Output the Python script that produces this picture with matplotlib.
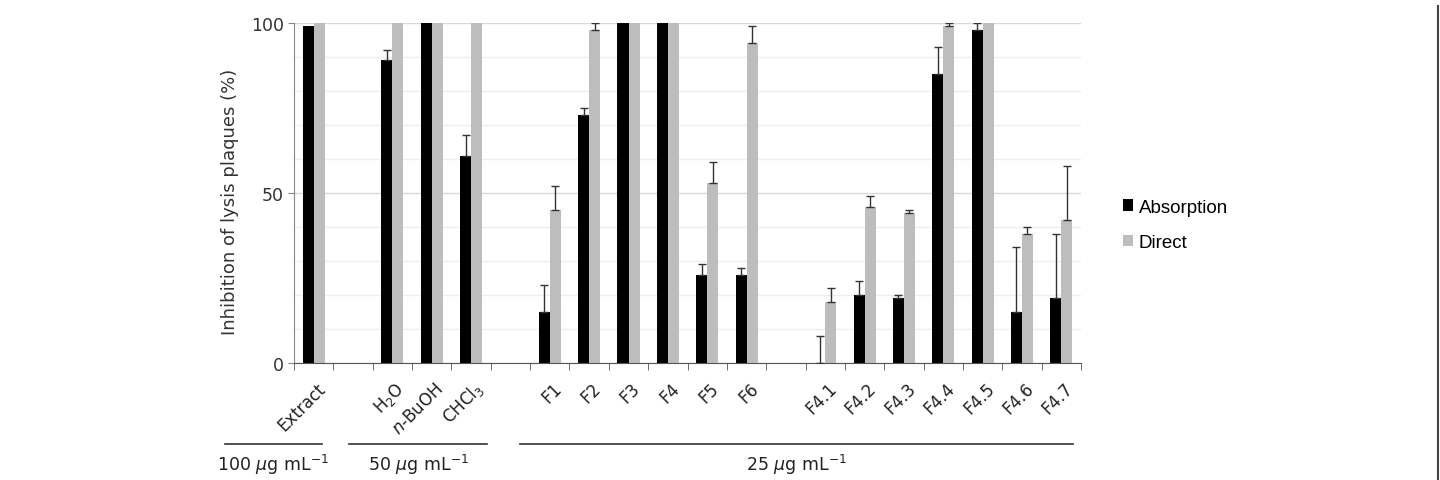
import numpy as np
import matplotlib.pyplot as plt
from matplotlib.lines import Line2D
import matplotlib.transforms as mtransforms

# Category labels (empty strings are spacer slots between groups)
categories = ['Extract', '', 'H$_2$O', '$\\it{n}$-BuOH', 'CHCl$_3$', '',
              'F1', 'F2', 'F3', 'F4', 'F5', 'F6', '',
              'F4.1', 'F4.2', 'F4.3', 'F4.4', 'F4.5', 'F4.6', 'F4.7']

absorption = [99, np.nan, 89, 100, 61, np.nan,
              15, 73, 100, 100, 26, 26, np.nan,
              0, 20, 19, 85, 98, 15, 19]
absorption_err = [0, 0, 3, 0, 6, 0,
                  8, 2, 0, 0, 3, 2, 0,
                  8, 4, 1, 8, 2, 19, 19]

direct = [100, np.nan, 100, 100, 100, np.nan,
          45, 98, 100, 100, 53, 94, np.nan,
          18, 46, 44, 99, 100, 38, 42]
direct_err = [0, 0, 0, 0, 0, 0,
              7, 2, 0, 0, 6, 5, 0,
              4, 3, 1, 1, 0, 2, 16]

# Concentration groups: (label, start x, end x in category units)
groups = [('100 $\\mu$g mL$^{-1}$', -2.25, 0.2),
          ('50 $\\mu$g mL$^{-1}$', 0.9, 4.4),
          ('25 $\\mu$g mL$^{-1}$', 5.25, 19.3)]

fig = plt.figure(figsize=(14.4, 4.81), dpi=100)
ax = fig.add_axes([0.2042, 0.2432, 0.5465, 0.7068])

x = np.arange(len(categories))
w = 0.28
abs_vals = np.array(absorption, dtype=float)
dir_vals = np.array(direct, dtype=float)

ax.bar(x - w / 2, abs_vals, width=w, color='black', label='Absorption', zorder=2)
ax.bar(x + w / 2, dir_vals, width=w, color='#BDBDBD', label='Direct', zorder=2)

# upward-only error bars
for xs, vals, errs in [(x - w / 2, abs_vals, absorption_err), (x + w / 2, dir_vals, direct_err)]:
    mask = np.array(errs) > 0
    ax.errorbar(xs[mask], vals[mask], yerr=[np.zeros(mask.sum()), np.array(errs)[mask]],
                fmt='none', ecolor='#333333', elinewidth=1, capsize=3, capthick=1, zorder=3)

ax.set_xlim(-0.5, len(categories) - 0.5)
ax.set_ylim(0, 100)

# gridlines
ax.set_yticks([0, 50, 100])
ax.set_yticks(np.arange(0, 101, 10), minor=True)
ax.yaxis.grid(True, which='major', color='#D9D9D9', linewidth=1, zorder=0)
ax.yaxis.grid(True, which='minor', color='#EEEEEE', linewidth=1, zorder=0)
ax.set_axisbelow(True)
ax.tick_params(axis='y', which='major', labelsize=12.5, colors='#333333', length=4, color='#888888')
ax.tick_params(axis='y', which='minor', length=0)

# x ticks: labels at centres, marks at boundaries
ax.set_xticks(x)
ax.set_xticklabels(categories, rotation=45, ha='right', va='center',
                   rotation_mode='anchor', fontsize=12, color='#222222')
ax.set_xticks(np.arange(-0.5, len(categories)), minor=True)
ax.tick_params(axis='x', which='major', length=0, pad=16)
ax.tick_params(axis='x', which='minor', length=5, color='#555555')
offset = mtransforms.ScaledTranslation(9 / 100, 0, fig.dpi_scale_trans)
for lab in ax.get_xticklabels():
    lab.set_transform(lab.get_transform() + offset)

for side in ['top', 'right']:
    ax.spines[side].set_visible(False)
ax.spines['left'].set_color('#888888')
ax.spines['bottom'].set_color('#555555')

ax.set_ylabel('Inhibition of lysis plaques (%)', fontsize=13, color='#333333')
ax.yaxis.set_label_coords(-0.07, 0.476)

# concentration group lines and labels under the axis
trans = mtransforms.blended_transform_factory(ax.transData, fig.transFigure)
for label, x0, x1 in groups:
    fig.add_artist(Line2D([x0, x1], [0.075, 0.075], transform=trans, color='#333333', linewidth=1.2))
    ax.text((x0 + x1) / 2, 0.033, label, transform=trans, ha='center', va='center',
            fontsize=12.5, color='#222222')

ax.legend(loc='center left', bbox_to_anchor=(0.768, 0.53), bbox_transform=fig.transFigure,
          frameon=False, prop={'family': 'Liberation Sans', 'size': 13.5},
          handlelength=0.55, handleheight=0.55, handletextpad=0.3, labelspacing=1.0)

# page frame line at the right edge
fig.add_artist(Line2D([0.9986, 0.9986], [0, 0.985], transform=fig.transFigure,
                      color='#444444', linewidth=1.5))

plt.savefig('out.png', dpi=100)
